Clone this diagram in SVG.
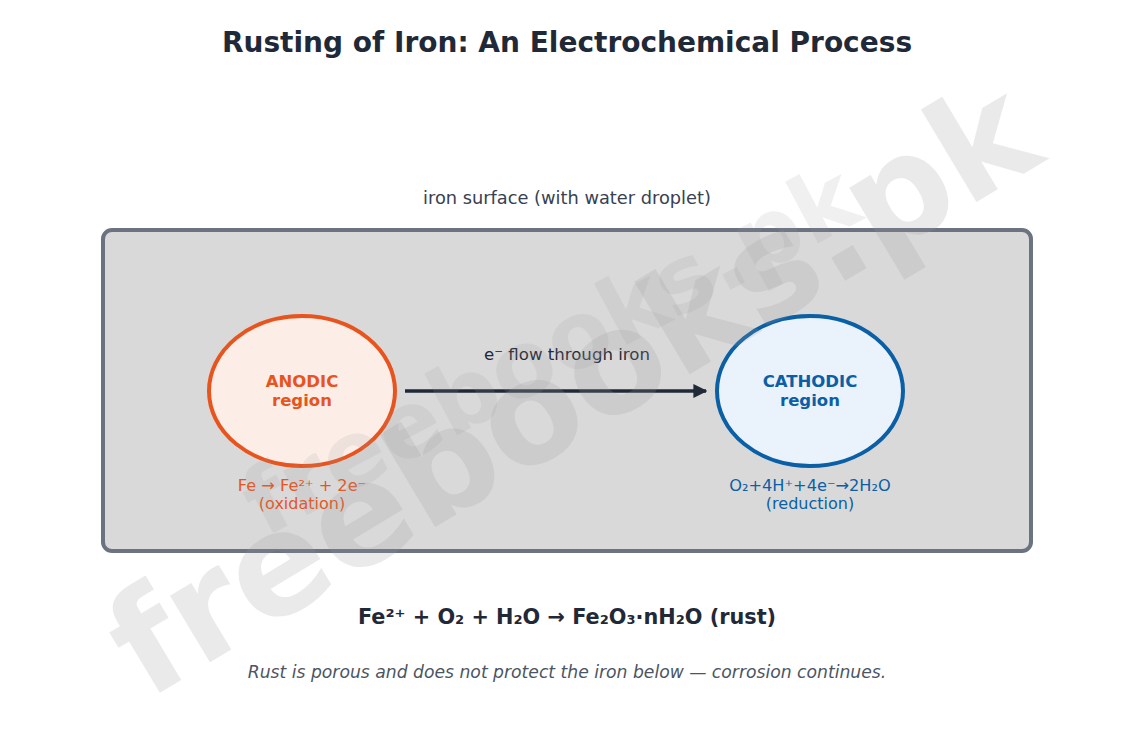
<svg xmlns="http://www.w3.org/2000/svg" width="1134" height="746" viewBox="0 0 1134 746">
<style>
.t{font-family:"DejaVu Sans",Verdana,sans-serif;text-anchor:middle}
.wm{font-family:"DejaVu Sans",sans-serif;font-weight:bold;text-anchor:middle;fill:#9a9a9a}
</style>
<defs>
<marker id="ah" viewBox="0 0 10 10" refX="9" refY="5" markerWidth="4" markerHeight="4" orient="auto" markerUnits="strokeWidth">
<path d="M0,0 L10,5 L0,10 z" fill="#1f2937"/>
</marker>
</defs>
<rect width="1134" height="746" fill="#ffffff"/>
<text class="t" x="567" y="52" font-size="28" font-weight="bold" fill="#1f2937">Rusting of Iron: An Electrochemical Process</text>
<text class="t" x="567" y="204" font-size="17.8" fill="#374151">iron surface (with water droplet)</text>
<g id="surface">
<rect x="103" y="230" width="928" height="321" rx="9" fill="#d9d9d9" stroke="#6b7280" stroke-width="4"/>
</g>
<g id="connectors">
<line x1="405" y1="391" x2="706" y2="391" stroke="#1f2937" stroke-width="3.5" marker-end="url(#ah)"/>
<text class="t" x="567" y="360" font-size="16.6" fill="#1f2937">e⁻ flow through iron</text>
</g>
<g id="anodic">
<ellipse cx="302" cy="391" rx="93" ry="75" fill="#fcede7" stroke="#e8541e" stroke-width="4"/>
<text class="t" x="302" y="387" font-size="16.5" font-weight="bold" fill="#e8541e">ANODIC</text>
<text class="t" x="302" y="406" font-size="16.5" font-weight="bold" fill="#e8541e">region</text>
<text class="t" x="302" y="491" font-size="16.2" fill="#e8541e">Fe → Fe²⁺ + 2e⁻</text>
<text class="t" x="302" y="509" font-size="16" fill="#e8541e">(oxidation)</text>
</g>
<g id="cathodic">
<ellipse cx="810" cy="391" rx="93" ry="75" fill="#eaf2fb" stroke="#0b5fa5" stroke-width="4"/>
<text class="t" x="810" y="387" font-size="16.5" font-weight="bold" fill="#0b5fa5">CATHODIC</text>
<text class="t" x="810" y="406" font-size="16.5" font-weight="bold" fill="#0b5fa5">region</text>
<text class="t" x="810" y="491" font-size="16.2" fill="#0b5fa5">O₂+4H⁺+4e⁻→2H₂O</text>
<text class="t" x="810" y="509" font-size="16" fill="#0b5fa5">(reduction)</text>
</g>
<text class="t" x="567" y="624" font-size="20.8" font-weight="bold" fill="#1f2937">Fe²⁺ + O₂ + H₂O → Fe₂O₃·nH₂O (rust)</text>
<text class="t" x="567" y="678" font-size="17.2" font-style="italic" fill="#4b5563">Rust is porous and does not protect the iron below — corrosion continues.</text>
<g id="watermark">
<text class="wm" font-size="92" opacity="0.14" transform="translate(565,378) rotate(-28)">freebooks.pk</text>
<text class="wm" font-size="142" opacity="0.2" transform="translate(597,430) rotate(-31)">freebooks.pk</text>
</g>
</svg>
